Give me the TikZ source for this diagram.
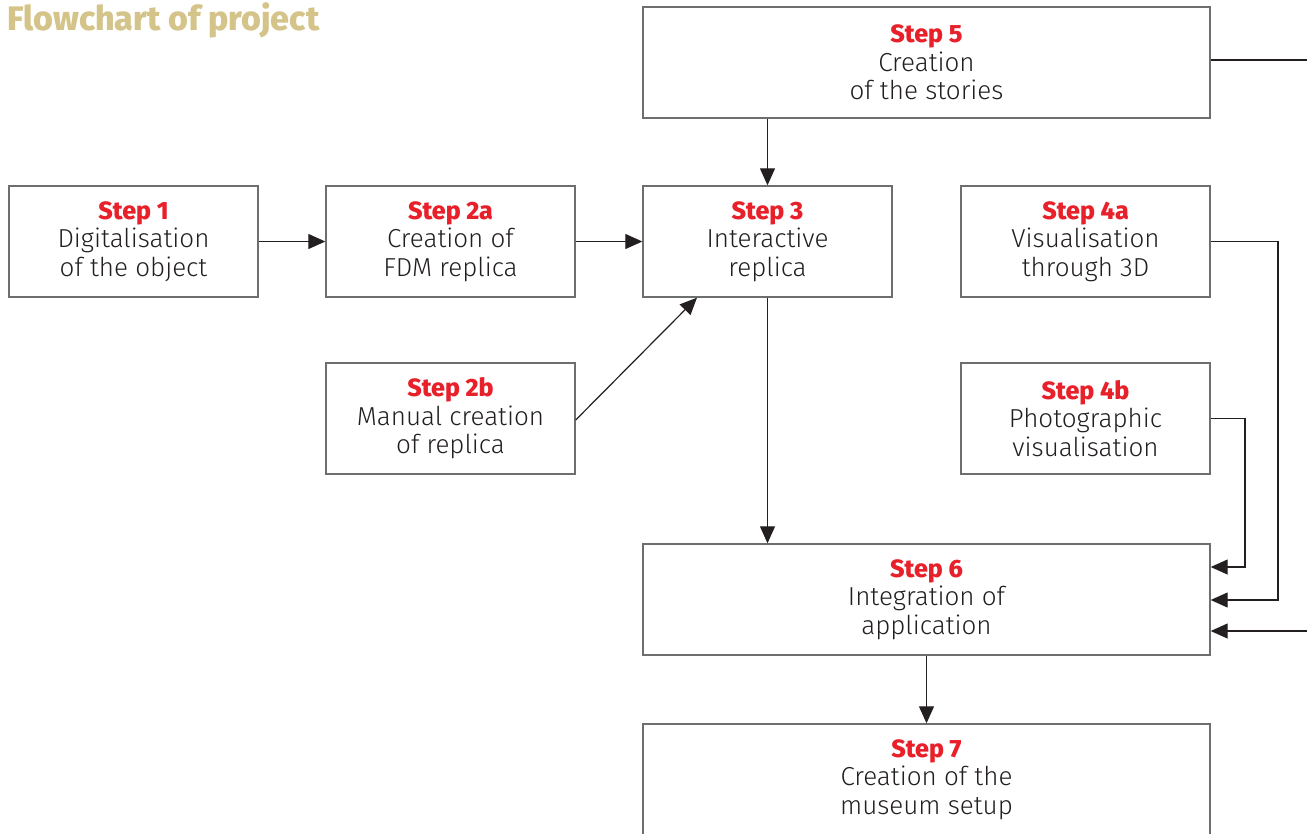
\documentclass[tikz,border=0pt]{standalone}
\usepackage{fontspec}
\setmainfont{Fira Sans Light}
\newfontfamily\headfont{Fira Sans ExtraBold}
\usetikzlibrary{arrows.meta}
\definecolor{stepred}{HTML}{E8202A}
\definecolor{titlegold}{HTML}{D4C48A}
\definecolor{boxgray}{HTML}{6D6E70}
\definecolor{linegray}{HTML}{231F20}
\tikzset{
  stepbox/.style={draw=boxgray, line width=1.4pt, rectangle, inner sep=0pt,
    minimum width=249pt, minimum height=111pt, align=center,
    font=\fontsize{26}{28.5}\selectfont, text=linegray},
  widebox/.style={stepbox, minimum width=567pt},
  conn/.style={draw=linegray, line width=1.2pt},
  arr/.style={conn, -{Triangle[length=17pt,width=15pt]}},
}
\newcommand{\stp}[1]{{\headfont\fontsize{25}{28.5}\selectfont\color{stepred}#1}}
\begin{document}
\begin{tikzpicture}[x=1pt,y=-1pt]
\useasboundingbox (0,0) rectangle (1307,833);
\node[anchor=west, inner sep=0pt, font=\headfont\fontsize{34}{38}\selectfont, text=titlegold] (title) at (7,20) {Flowchart of project};
\node[stepbox] (s1) at (133.5,241.5) {\stp{Step 1}\\Digitalisation\\of the object};
\node[stepbox] (s2a) at (450.5,241.5) {\stp{Step 2a}\\Creation of\\FDM replica};
\node[stepbox] (s3) at (767.5,241.5) {\stp{Step 3}\\Interactive\\replica};
\node[stepbox] (s4a) at (1085.5,241.5) {\stp{Step 4a}\\Visualisation\\through 3D};
\node[stepbox] (s2b) at (450.5,418.5) {\stp{Step 2b}\\Manual creation\\of replica};
\node[stepbox] (s4b) at (1085.5,418.5) {\stp{Step 4b}\\Photographic\\visualisation};
\node[widebox] (s5) at (926.5,62.5) {\stp{Step 5}\\Creation\\of the stories};
\node[widebox] (s6) at (926.5,599.5) {\stp{Step 6}\\Integration of\\application};
\node[widebox] (s7) at (926.5,779.5) {\stp{Step 7}\\Creation of the\\museum setup};
\coordinate (c5) at (1309,60);
\coordinate (c4a) at (1278,241.5);
\coordinate (c4b) at (1245,418.5);
\draw[arr] (s1.east) -- (s2a.west);
\draw[arr] (s2a.east) -- (s3.west);
\draw[arr] (s5.south -| s3) -- (s3.north);
\draw[arr] ([yshift=-1.5pt]s2b.east) -- ([xshift=-70.5pt]s3.south);
\draw[arr] (s3.south) -- (s3.south |- s6.north);
\draw[arr] (s6.south) -- (s7.north);
\draw[conn] (s5.east |- c5) -- (c5);
\draw[arr] (s4a.east) -- (c4a) |- ([yshift=-0.5pt]s6.east);
\draw[arr] (s4b.east) -- (c4b) |- ([yshift=32.5pt]s6.east);
\draw[arr] (c5) |- ([yshift=-31.5pt]s6.east);
\end{tikzpicture}
\end{document}
